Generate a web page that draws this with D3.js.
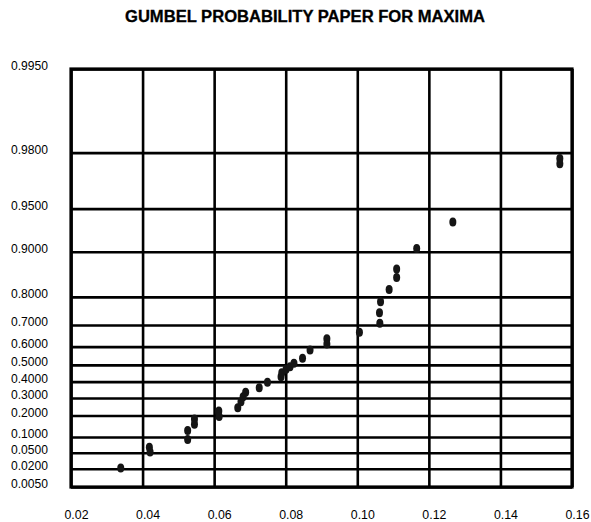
<!DOCTYPE html>
<html>
<head>
<meta charset="utf-8">
<script src="https://cdn.jsdelivr.net/npm/d3@7"></script>
<style>
  body { margin: 0; background: #fff; }
  svg { display: block; font-family: "Liberation Sans", Arial, sans-serif; }
</style>
</head>
<body>
<svg id="chart" width="591" height="522"></svg>
<script>
// gumbel paper: horizontal lines are non-exceedance probabilities
let probTicks = [0.005, 0.02, 0.05, 0.1, 0.2, 0.3, 0.4, 0.5, 0.6, 0.7, 0.8, 0.9, 0.95, 0.98, 0.995]
let xTicks = [0.02, 0.04, 0.06, 0.08, 0.10, 0.12, 0.14, 0.16]

let maxima = [0.0339, 0.0419, 0.0421, 0.0526, 0.0526, 0.0545, 0.0545, 0.0613, 0.0614,
  0.0666, 0.0675, 0.0681, 0.0688, 0.0726, 0.0749, 0.0787, 0.0789, 0.0801, 0.0812, 0.0823,
  0.0847, 0.0868, 0.0915, 0.0915, 0.1006, 0.1063, 0.1062, 0.1065, 0.1089, 0.1110, 0.1110,
  0.1166, 0.1267, 0.1566, 0.1566]
let probs = [0.021, 0.065, 0.052, 0.126, 0.091, 0.182, 0.155, 0.225, 0.194,
  0.243, 0.278, 0.308, 0.335, 0.363, 0.396, 0.430, 0.454, 0.474, 0.490, 0.509,
  0.538, 0.582, 0.639, 0.613, 0.669, 0.707, 0.748, 0.785, 0.821, 0.869, 0.851,
  0.905, 0.938, 0.978, 0.976]

let gumbel = p => -Math.log(-Math.log(p))
let fromGumbel = u => Math.exp(-Math.exp(-u))

let margin = { top: 69, right: 19, bottom: 35, left: 71 }
let svg = d3.select("#chart")
let width = +svg.attr("width") - margin.left - margin.right
let height = +svg.attr("height") - margin.top - margin.bottom

let x = d3.scaleLinear().domain([0.02, 0.16]).range([0, width])
let y = d3.scaleLinear().domain([gumbel(0.005), gumbel(0.995)]).range([height, 0])

svg.append("text")
  .attr("x", 305).attr("y", 21.5)
  .attr("text-anchor", "middle")
  .attr("font-size", 16).attr("font-weight", "bold")
  .attr("stroke", "#000").attr("stroke-width", 0.3)
  .attr("textLength", 360).attr("lengthAdjust", "spacingAndGlyphs")
  .text("GUMBEL PROBABILITY PAPER FOR MAXIMA")

let g = svg.append("g").attr("transform", `translate(${margin.left},${margin.top})`)

let yAxis = d3.axisLeft(y)
  .tickValues(probTicks.map(gumbel))
  .tickFormat(u => d3.format(".4f")(fromGumbel(u)))
  .tickSizeInner(-width).tickSizeOuter(0).tickPadding(23)

let xAxis = d3.axisBottom(x)
  .tickValues(xTicks)
  .tickFormat(d3.format(".2f"))
  .tickSizeInner(-height).tickSizeOuter(0)

let gy = g.append("g").call(yAxis)
let gx = g.append("g").attr("transform", `translate(0,${height})`).call(xAxis)

for (let ax of [gx, gy]) {
  ax.select(".domain").remove()
  ax.selectAll(".tick line").attr("stroke", "#000").attr("stroke-width", 2.6)
  ax.selectAll(".tick text").attr("fill", "#000").attr("font-size", 13)
}
gy.selectAll(".tick text").attr("dy", "0.05em")
  .attr("textLength", 37).attr("lengthAdjust", "spacingAndGlyphs")
gx.selectAll(".tick text").attr("y", 32).attr("dy", 0).attr("dx", 5)
  .attr("textLength", 24).attr("lengthAdjust", "spacingAndGlyphs")

g.append("rect")
  .attr("width", width).attr("height", height)
  .attr("fill", "none").attr("stroke", "#000").attr("stroke-width", 3.2)

g.selectAll("ellipse.pt")
  .data(d3.zip(maxima, probs))
  .enter().append("ellipse").classed("pt", true)
    .attr("cx", d => x(d[0]))
    .attr("cy", d => y(gumbel(d[1])))
    .attr("rx", 3.5).attr("ry", 4.5)
    .attr("fill", "#151515")
</script>
</body>
</html>
